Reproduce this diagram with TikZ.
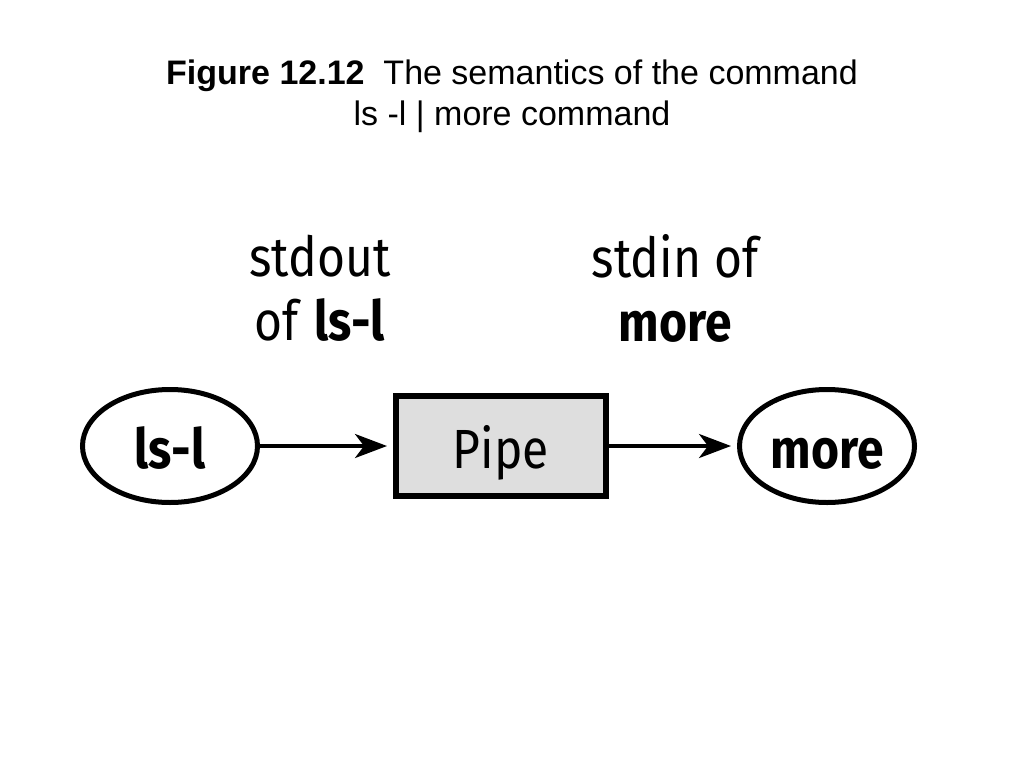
\documentclass[tikz,border=0pt]{standalone}
\usepackage{fontspec}
\setmainfont{Liberation Sans}
\newfontfamily\fira{Fira Sans}
\usetikzlibrary{arrows.meta,shapes.geometric}
\newcommand{\tall}[1]{\scalebox{1}[1.15]{#1}}
\begin{document}
\begin{tikzpicture}[x=1pt,y=-1pt,
  lbl/.style={font=\fira\fontsize{48}{64}\selectfont,align=center,inner sep=0pt},
  proc/.style={ellipse,draw,line width=5pt,minimum width=175pt,minimum height=113pt,inner sep=0pt,text height=44pt,text depth=0pt,font=\fira\bfseries\fontsize{48}{58}\selectfont},
  pipebox/.style={rectangle,draw,line width=6pt,fill=black!13,minimum width=210pt,minimum height=100pt,inner sep=0pt,text height=44pt,text depth=0pt,font=\fira\fontsize{48}{58}\selectfont},
  flow/.style={line width=3.5pt,shorten >=6pt,-{Stealth[length=32pt,width=24pt,inset=9pt]}}]
\useasboundingbox (0,0) rectangle (1024,768);
\node[font=\fontsize{34}{41}\selectfont,align=center] (title) at (512,96) {\textbf{Figure 12.12}\ \ The semantics of the command\\ls -l | more command};
\node[lbl] (l1) at (320,288) {\tall{stdout}\\\tall{of \textbf{ls-l}}};
\node[lbl] (l2) at (675,288) {\tall{stdin of}\\\tall{\textbf{more}}};
\node[proc] (ls) at (170,446) {\tall{ls-l}};
\node[pipebox] (pipe) at (501,446) {\tall{Pipe}};
\node[proc] (more) at (827,446) {\tall{more}};
\draw[flow] (ls) -- (pipe);
\draw[flow] (pipe) -- (more);
\end{tikzpicture}
\end{document}
